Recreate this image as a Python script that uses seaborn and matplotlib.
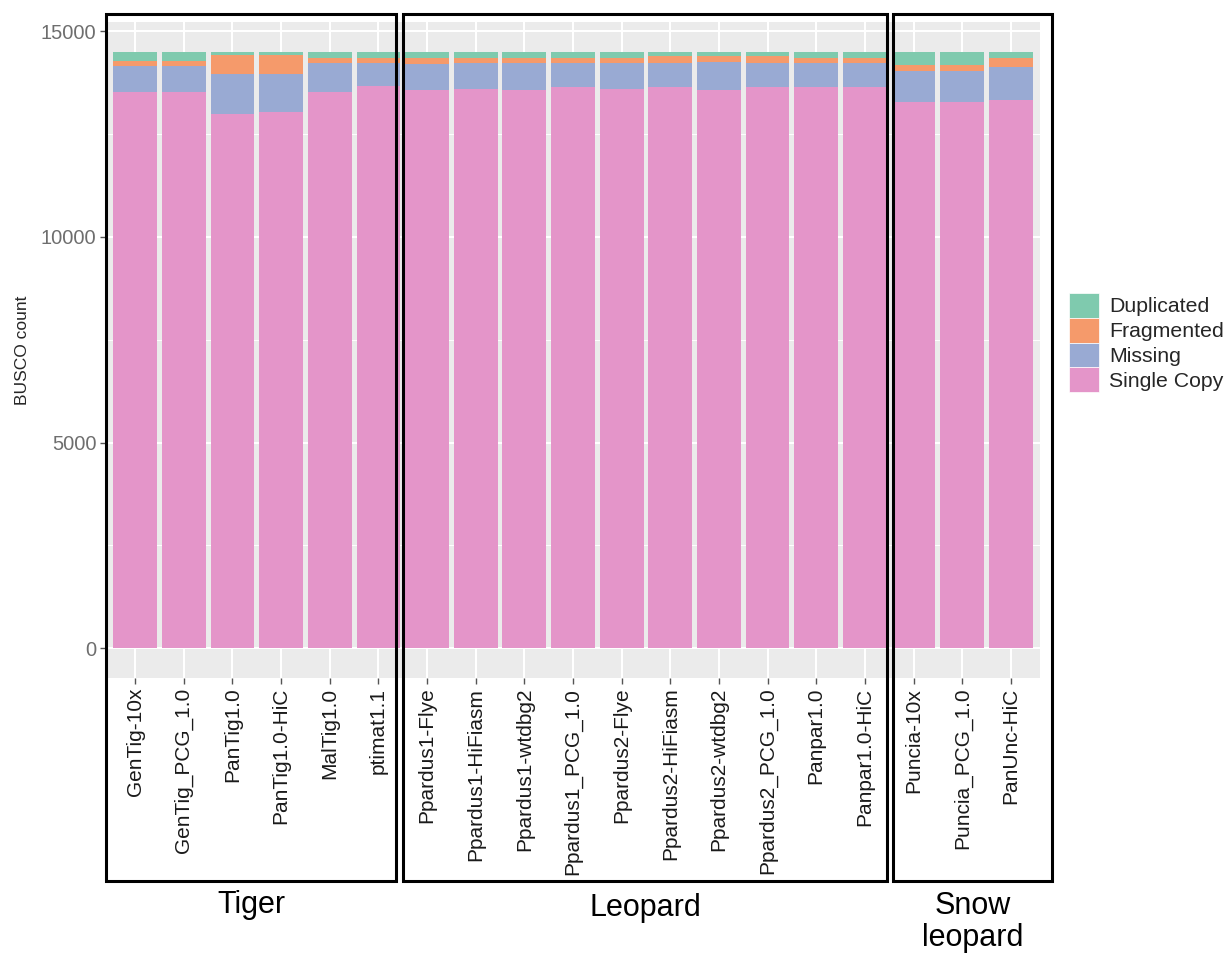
import matplotlib as mpl
mpl.use("Agg")
import matplotlib.pyplot as plt
import seaborn as sns
import pandas as pd
import numpy as np
from matplotlib.patches import Rectangle, Patch

sns.set_style("white")
plt.rcParams["font.family"] = ["Liberation Sans", "DejaVu Sans"]

# assemblies, in plotting order
assemblies = ["GenTig-10x", "GenTig_PCG_1.0", "PanTig1.0", "PanTig1.0-HiC", "MalTig1.0", "ptimat1.1",
              "Ppardus1-Flye", "Ppardus1-HiFiasm", "Ppardus1-wtdbg2", "Ppardus1_PCG_1.0",
              "Ppardus2-Flye", "Ppardus2-HiFiasm", "Ppardus2-wtdbg2", "Ppardus2_PCG_1.0",
              "Panpar1.0", "Panpar1.0-HiC",
              "Puncia-10x", "Puncia_PCG_1.0", "PanUnc-HiC"]
groups = ["Tiger", "Leopard", "Snow\nleopard"]

# BUSCO counts
single_copy = [13515, 13515, 12986, 13027, 13515, 13677,
               13580, 13604, 13580, 13644, 13604, 13644, 13580, 13644, 13644, 13644,
               13278, 13278, 13319]
missing = [650, 650, 983, 942, 714, 550,
           616, 623, 648, 584, 623, 584, 681, 584, 584, 584,
           755, 755, 813]
fragmented = [122, 122, 463, 463, 131, 131,
              163, 131, 131, 131, 131, 163, 130, 163, 131, 131,
              155, 155, 229]
duplicated = [202, 202, 56, 56, 129, 129,
              129, 129, 129, 129, 129, 97, 97, 97, 129, 129,
              300, 300, 129]

categories = ["Duplicated", "Fragmented", "Missing", "Single Copy"]
colors = {"Duplicated": "#7FCAAE", "Fragmented": "#F59A6B",
          "Missing": "#99AAD3", "Single Copy": "#E495C9"}

df = pd.DataFrame({"assembly": assemblies, "Single Copy": single_copy,
                   "Missing": missing, "Fragmented": fragmented,
                   "Duplicated": duplicated})
# cumulative heights, bottom to top
df["c_single"] = df["Single Copy"]
df["c_missing"] = df["c_single"] + df["Missing"]
df["c_frag"] = df["c_missing"] + df["Fragmented"]
df["c_dup"] = df["c_frag"] + df["Duplicated"]

W, H = 1226, 955
fig = plt.figure(figsize=(W / 100, H / 100), dpi=100)
ax = fig.add_axes([106 / W, 1 - 678 / H, (1040 - 106) / W, (678 - 22) / H])
ax.set_facecolor("#EBEBEB")

for col, cat in [("c_dup", "Duplicated"), ("c_frag", "Fragmented"),
                 ("c_missing", "Missing"), ("c_single", "Single Copy")]:
    sns.barplot(data=df, x="assembly", y=col, color=colors[cat], width=0.9,
                saturation=1, ax=ax, order=assemblies, zorder=3, linewidth=0)

top = 14502
ax.set_xlim(-0.6, len(assemblies) - 0.4)
ax.set_ylim(-0.05 * top, 1.05 * top)
ax.set_yticks([0, 5000, 10000, 15000])
ax.set_yticks([2500, 7500, 12500], minor=True)
ax.grid(True, which="major", color="white", lw=1.5, zorder=0)
ax.grid(True, which="minor", axis="y", color="white", lw=0.7, zorder=0)
ax.set_axisbelow(True)
for s in ax.spines.values():
    s.set_visible(False)

ax.tick_params(axis="x", rotation=90, labelsize=15, labelcolor="#1A1A1A",
               length=4, width=1, color="#555555", pad=3, bottom=True)
ax.tick_params(axis="y", labelsize=14.5, labelcolor="#6E6E6E", length=4, width=1,
               color="#555555", pad=3, left=True)
ax.tick_params(axis="y", which="minor", length=0)
ax.set_xlabel("")
ax.set_ylabel("BUSCO count", fontsize=12.5, labelpad=8)

# group boxes and labels
boxes = [(106, 396), (403, 887), (893, 1052)]
label_y = [905, 908, 922]
for (x0, x1), g, ly in zip(boxes, groups, label_y):
    fig.patches.append(Rectangle((x0 / W, 1 - 881 / H), (x1 - x0) / W, (881 - 14) / H,
                                 transform=fig.transFigure, fill=False,
                                 ec="black", lw=2.2, zorder=10))
    fig.text((x0 + x1) / 2 / W, 1 - ly / H, g, ha="center", va="center",
             fontsize=22, linespacing=1.1, color="black")

handles = [Patch(facecolor=colors[c], edgecolor="white", lw=0.5) for c in categories]
fig.legend(handles, categories, loc="upper left",
           bbox_to_anchor=(1069 / W, 1 - 293 / H), frameon=False, fontsize=15.3,
           handlelength=1.4, handleheight=1.42, labelspacing=0.0,
           handletextpad=0.5, borderpad=0, borderaxespad=0)

fig.savefig("out.png", dpi=100)
